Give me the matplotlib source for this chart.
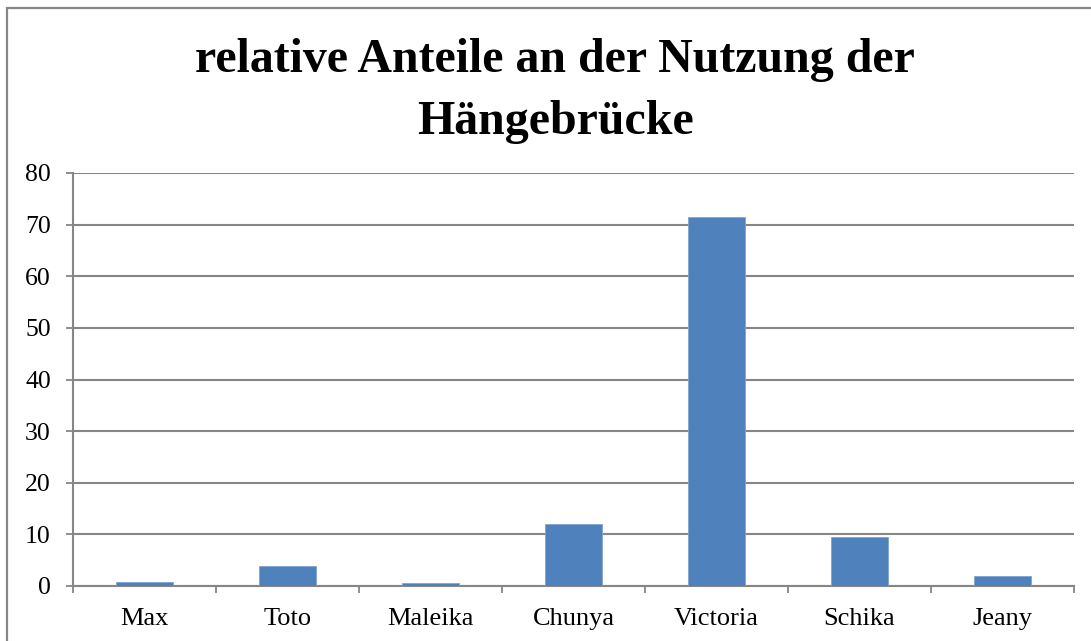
import numpy as np
import matplotlib
matplotlib.use("Agg")
import matplotlib.pyplot as plt
from matplotlib.patches import Rectangle

# daten (relative Anteile in %)
namen = ["Max", "Toto", "Maleika", "Chunya", "Victoria", "Schika", "Jeany"]
anteile = [0.8, 3.9, 0.5, 12.1, 71.5, 9.4, 2.0]
y_ticks = [0, 10, 20, 30, 40, 50, 60, 70, 80]
titel = "relative Anteile an der Nutzung der\nHängebrücke"

grau = "#868686"
blau = "#4F81BD"

plt.rcParams["font.family"] = ["Liberation Serif", "DejaVu Serif"]

fig = plt.figure(figsize=(10.91, 6.41), dpi=100)
W, H = 1091, 641

# rahmen um das diagramm (rechts und unten abgeschnitten)
fig.patches.append(Rectangle((7 / W, -0.1), 1.2, 1 - 8 / H + 0.1,
                             transform=fig.transFigure, fill=False,
                             edgecolor=grau, linewidth=1.6))

ax = fig.add_axes([73 / W, 1 - 586 / H, (1074 - 73) / W, (586 - 173) / H])

x = np.arange(len(namen))
ax.bar(x, anteile, width=0.4, color=blau, edgecolor="#7FA3D3", linewidth=0.6, zorder=3)

ax.set_xlim(-0.5, len(namen) - 0.5)
ax.set_ylim(0, 80)
ax.set_yticks(y_ticks)
ax.yaxis.grid(True, color=grau, linewidth=1.5, zorder=0)

ax.set_xticks(np.arange(-0.5, len(namen)), labels=[])
ax.set_xticks(x, labels=namen, minor=True)
ax.tick_params(axis="x", which="major", length=5, width=1.3, color=grau, direction="out")
ax.tick_params(axis="x", which="minor", length=0, pad=15.5, labelsize=19)
ax.tick_params(axis="y", length=5, width=1.3, color=grau, pad=11, labelsize=18.5)

for s in ["top", "right"]:
    ax.spines[s].set_visible(False)
for s in ["left", "bottom"]:
    ax.spines[s].set_color(grau)
    ax.spines[s].set_linewidth(1.5)

fig.text(555 / W, 1 - 91 / H, titel, ha="center", va="center",
         fontsize=34.5, fontweight="bold", linespacing=1.5)

fig.savefig("out.png", dpi=100)
